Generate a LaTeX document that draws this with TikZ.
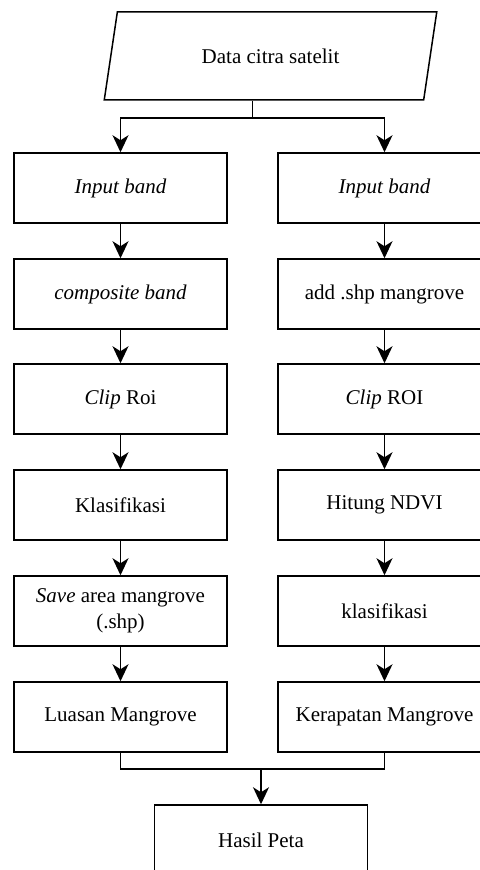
\documentclass[tikz,border=0pt]{standalone}
\usepackage{fontspec}
\setmainfont{Liberation Serif}
\usetikzlibrary{arrows.meta,shapes.geometric}

\tikzset{
	kotak/.style={draw, line width=0.75pt, minimum width=106.5pt, minimum height=35pt, inner sep=0pt, align=center},
	panah/.style={line width=0.75pt, -{Stealth[length=8.5pt, width=8pt, inset=2.5pt]}},
	garis/.style={line width=0.75pt}
}

\begin{document}
\begin{tikzpicture}[x=0.5pt, y=-0.5pt, every node/.style={font=\fontsize{10.5pt}{13pt}\selectfont}]
			\useasboundingbox (0,0) rectangle (480,870);
			\clip (0,0) rectangle (480,870);
			\node[draw, line width=0.75pt, trapezium, trapezium left angle=68.3, trapezium right angle=111.7, trapezium stretches=true, minimum width=167.5pt, minimum height=44pt, inner sep=0pt] (data) at (270.5,56) {Data citra satelit};
			\node[kotak] (kiri1) at (120.5,188) {\textit{Input band}};
			\node[kotak] (kiri2) at (120.5,294) {\textit{composite band}};
			\node[kotak] (kiri3) at (120.5,399) {\textit{Clip} Roi};
			\node[kotak] (kiri4) at (120.5,505) {Klasifikasi};
			\node[kotak] (kiri5) at (120.5,611) {\textit{Save} area mangrove\\(.shp)};
			\node[kotak] (kiri6) at (120.5,717) {Luasan Mangrove};
			\node[kotak] (kanan1) at (384.5,188) {\textit{Input band}};
			\node[kotak] (kanan2) at (384.5,294) {add .shp mangrove};
			\node[kotak] (kanan3) at (384.5,399) {\textit{Clip} ROI};
			\node[kotak] (kanan4) at (384.5,505) {Hitung NDVI};
			\node[kotak] (kanan5) at (384.5,611) {klasifikasi};
			\node[kotak] (kanan6) at (384.5,717) {Kerapatan Mangrove};
			\node[kotak] (hasil) at (261,840) {Hasil Peta};
			\coordinate (cabang) at (252.5,118);
			\coordinate (gabung) at (261,769);
			\draw[garis] (cabang |- data.south) -- (cabang);
			\draw[panah] (cabang) -| (kiri1.north);
			\draw[panah] (cabang) -| (kanan1.north);
			\foreach \a/\b in {1/2,2/3,3/4,4/5,5/6}{
				\draw[panah] (kiri\a) -- (kiri\b);
				\draw[panah] (kanan\a) -- (kanan\b);
			}
			\draw[garis] (kiri6.south) |- (gabung) -| (kanan6.south);
			\draw[panah] (gabung) -- (hasil);
		\end{tikzpicture}
\end{document}
